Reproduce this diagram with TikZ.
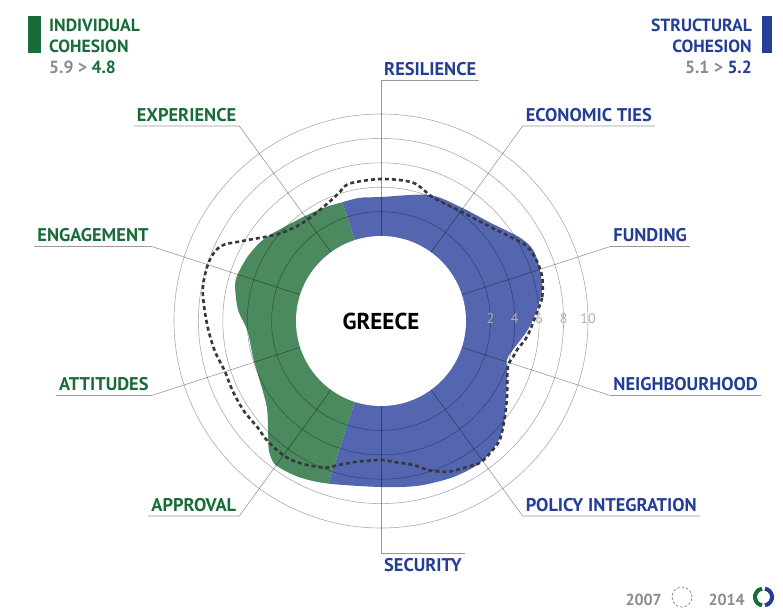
\documentclass[tikz,border=0pt]{standalone}
\usepackage{fontspec}
\setmainfont{PT Sans}
\usetikzlibrary{positioning}
\definecolor{indiv}{RGB}{24,108,58}
\definecolor{struct}{RGB}{36,62,150}
\definecolor{indivfill}{RGB}{74,138,94}
\definecolor{structfill}{RGB}{84,102,176}
\definecolor{softgray}{RGB}{140,140,140}
\definecolor{dashgray}{RGB}{55,55,60}
\newcommand{\labfont}{\fontsize{18.4}{20}\selectfont\bfseries}
\newcommand{\headfont}{\fontsize{17.6}{20}\selectfont\bfseries}

\begin{document}
\begin{tikzpicture}[
    x=1pt, y=1pt,
    ringline/.style={draw=black, draw opacity=0.33, line width=0.6pt},
    leader/.style={draw=black, draw opacity=0.4, line width=0.6pt},
    indlabel/.style={font=\labfont, text=indiv, inner xsep=3pt, inner ysep=4.5pt, anchor=south east},
    strlabel/.style={font=\labfont, text=struct, inner xsep=3pt, inner ysep=4.5pt, anchor=south west},
    headtext/.style={font=\headfont, inner sep=0pt},
    ringnum/.style={font=\fontsize{14}{15}\selectfont, text=black!30, inner sep=0pt},
    olddash/.style={draw=dashgray, line width=2.6pt, dash pattern=on 4pt off 3pt}
]
\useasboundingbox (-381,-290) rectangle (402,321);
\fill[white] (-381,-290) rectangle (402,321);

% 2014 values: blue and green sectors clipped by the outline
\begin{scope}
\clip plot[smooth cycle] coordinates {(-3.5:147) (4:156) (11:164) (18:167) (25:168) (31:162) (42:147) (55:139) (69:135) (90:124) (100:125) (109:125) (117:127) (127:130) (136:135) (145:143) (154:148) (163:151) (168:149) (176:143) (184:134) (196:133) (206:135) (217:143) (224:157) (229:171) (233:178) (237:178) (243:176) (252:171) (270:166) (283:169) (295:172) (305:173) (314:168) (322:157) (338:136) (344:132)};
\fill[structfill] (0,0) -- (-108:270) arc[start angle=-108, end angle=108, radius=270] -- cycle;
\fill[indivfill] (0,0) -- (108:270) arc[start angle=108, end angle=252, radius=270] -- cycle;
\end{scope}

% rings
\foreach \v in {2,4,...,10}
  \draw[ringline] (0,0) circle[radius=85+12.2*\v];

% axis ends
\coordinate (res-in) at (90:85);    \coordinate (res-tip) at (90:241);
\coordinate (eco-in) at (54:85);    \coordinate (eco-tip) at (54:241);
\coordinate (fund-in) at (18:85);   \coordinate (fund-tip) at (18:241);
\coordinate (neigh-in) at (-18:85); \coordinate (neigh-tip) at (-18:241);
\coordinate (pol-in) at (-54:85);   \coordinate (pol-tip) at (-54:241);
\coordinate (sec-in) at (-90:85);   \coordinate (sec-tip) at (0,-232);
\coordinate (appr-in) at (-126:85); \coordinate (appr-tip) at (-126:241);
\coordinate (att-in) at (-162:85);  \coordinate (att-tip) at (-162:241);
\coordinate (eng-in) at (162:85);   \coordinate (eng-tip) at (162:241);
\coordinate (exp-in) at (126:85);   \coordinate (exp-tip) at (126:241);

% axis labels
\node[strlabel] (res) at (res-tip) {RESILIENCE};
\node[strlabel] (eco) at (eco-tip) {ECONOMIC TIES};
\node[strlabel] (fund) at (fund-tip) {FUNDING};
\node[strlabel] (neigh) at (neigh-tip) {NEIGHBOURHOOD};
\node[strlabel] (pol) at (pol-tip) {POLICY INTEGRATION};
\node[strlabel, anchor=north west, inner ysep=5pt] (sec) at (sec-tip) {SECURITY};
\node[indlabel] (appr) at (appr-tip) {APPROVAL};
\node[indlabel] (att) at (att-tip) {ATTITUDES};
\node[indlabel] (eng) at (eng-tip) {ENGAGEMENT};
\node[indlabel] (exp) at (exp-tip) {EXPERIENCE};

% leaders
\draw[leader] (res-in) -- (res-tip) -- (res.south east);
\draw[leader] (eco-in) -- (eco-tip) -- (eco.south east);
\draw[leader] (fund-in) -- (fund-tip) -- (fund.south east);
\draw[leader] (neigh-in) -- (neigh-tip) -- (neigh.south east);
\draw[leader] (pol-in) -- (pol-tip) -- (pol.south east);
\draw[leader] (sec-in) -- (sec-tip) -- (sec.north east);
\draw[leader] (appr-in) -- (appr-tip) -- (appr.south west);
\draw[leader] (att-in) -- (att-tip) -- (att.south west);
\draw[leader] (eng-in) -- (eng-tip) -- (eng.south west);
\draw[leader] (exp-in) -- (exp-tip) -- (exp.south west);

% 2007 values
\draw[olddash] plot[smooth cycle] coordinates {(3:156) (8.5:163) (15:167) (21:167) (27:164) (32:156) (41:144) (53:136) (67:134) (77:142) (90:142) (103:141) (108:135) (112:131) (121:126) (130:126) (140:135) (150:160) (155:177) (161:182) (170:181) (181:174) (190:169) (198:164) (205:164) (213:164) (221:163) (226:165) (233:166) (238:165) (244:161) (250:156) (253:151) (260:143) (270:139) (276:142) (283:148) (288:157) (294:165) (300:169) (305:173) (310:171) (315:168) (322:157) (329:147) (340:135) (345:137) (348:139) (354:147)};

% centre
\fill[white] (0,0) circle[radius=85];
\node[font=\fontsize{23}{25}\selectfont\bfseries] (greece) at (0,0) {GREECE};
\foreach \v in {2,4,...,10}
  \node[ringnum] (num-\v) at (85+12.2*\v, 2) {\v};

% headers
\node[fill=indiv, minimum width=13, minimum height=37, inner sep=0pt] (indbar) at (-346.5,286.5) {};
\node[headtext, text=indiv, anchor=base west] (indtitle) at (-332,289) {INDIVIDUAL};
\node[headtext, text=indiv, anchor=base west] (indsub) at (-332,269) {COHESION};
\node[headtext, anchor=base west] (indval) at (-332,248) {\textcolor{softgray}{5.9 >} \textcolor{indiv}{4.8}};
\node[fill=struct, minimum width=10, minimum height=37, inner sep=0pt] (strbar) at (386,286.5) {};
\node[headtext, text=struct, anchor=base east] (strtitle) at (371,289) {STRUCTURAL};
\node[headtext, text=struct, anchor=base east] (strsub) at (371,269) {COHESION};
\node[headtext, anchor=base east] (strval) at (371,248) {\textcolor{softgray}{5.1 >} \textcolor{struct}{5.2}};

% legend
\node[font=\fontsize{16}{18}\selectfont\bfseries, inner sep=0pt, text=softgray, anchor=base east] (y2007) at (281,-284) {2007};
\coordinate (oldmark) at (301,-276);
\draw[draw=softgray, line width=0.8pt, dash pattern=on 2.5pt off 2pt] (oldmark) circle[radius=10];
\node[font=\fontsize{16}{18}\selectfont\bfseries, inner sep=0pt, text=softgray, anchor=base east] (y2014) at (364,-284) {2014};
\coordinate (newmark) at (382.5,-276);
\draw[indiv, line width=4pt] ([shift={(100:8.5)}]newmark) arc[start angle=100, end angle=260, radius=8.5];
\draw[struct, line width=4pt] ([shift={(-80:8.5)}]newmark) arc[start angle=-80, end angle=80, radius=8.5];
\end{tikzpicture}
\end{document}
